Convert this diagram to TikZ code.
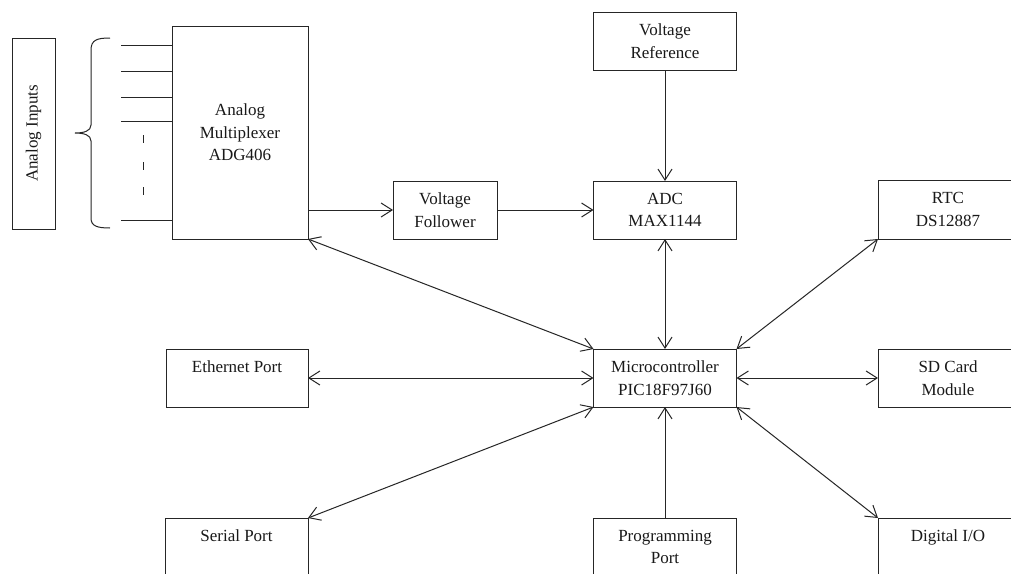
\documentclass[tikz,border=0pt]{standalone}
\usepackage{fontspec}
\setmainfont{Liberation Serif}
\usetikzlibrary{arrows.meta}
\tikzset{
  blk/.style={draw=black!85, line width=1pt, inner sep=0pt, outer sep=0pt,
    align=center, font=\fontsize{17}{22.5}\selectfont, text=black!90},
  wire/.style={draw=black!85, line width=1pt},
  sarr/.style={wire, -{Straight Barb[length=11pt,width=14pt,line width=1pt]}},
  darr/.style={wire, {Straight Barb[length=11pt,width=14pt,line width=1pt]}-{Straight Barb[length=11pt,width=14pt,line width=1pt]}},
}
\begin{document}
\begin{tikzpicture}[x=1pt,y=-1pt]
\clip (0,0) rectangle (1011,573);
\fill[white] (0,0) rectangle (1011,573);

% boxes
\node[blk, minimum width=191, minimum height=43, rotate=90] (ain) at (33.5,133.5) {Analog Inputs};
\node[blk, minimum width=136, minimum height=213] (mux) at (240,132.5) {Analog\\Multiplexer\\ADG406};
\node[blk, minimum width=104, minimum height=58] (vf) at (445,210) {Voltage\\Follower};
\node[blk, minimum width=143, minimum height=58] (vref) at (665,41) {Voltage\\Reference};
\node[blk, minimum width=143, minimum height=58] (adc) at (665,210) {ADC\\MAX1144};
\node[blk, minimum width=140, minimum height=59] (rtc) at (948,209.5) {RTC\\DS12887};
\node[blk, minimum width=143, minimum height=58] (mcu) at (665,378) {Microcontroller\\PIC18F97J60};
\node[blk, minimum width=142, minimum height=58] (eth) at (237,378) {Ethernet Port\\{}};
\node[blk, minimum width=140, minimum height=58] (sd) at (948,378) {SD Card\\Module};
\node[blk, minimum width=143, minimum height=58] (ser) at (236.5,547) {Serial Port\\{}};
\node[blk, minimum width=143, minimum height=58] (prog) at (665,547) {Programming\\Port};
\node[blk, minimum width=140, minimum height=58] (dio) at (948,547) {Digital I/O\\{}};

% analog input lines
\foreach \n/\yy in {1/45,2/71,3/97,4/121,5/220}{
  \coordinate (in\n) at (121,\yy);
  \draw[wire] (in\n) -- (in\n -| mux.west);
}
\foreach \n/\yy in {1/135,2/162,3/187}{
  \coordinate (d\n) at (143,\yy);
  \draw[wire] (d\n) -- ++(0,8);
}
% brace
\draw[wire] (110,38) .. controls (97,38) and (91,40) .. (91,50) -- (91,125)
  .. controls (91,131) and (84,133) .. (75,133)
  .. controls (84,133) and (91,135) .. (91,141) -- (91,218)
  .. controls (91,226) and (97,228) .. (110,228);

% connectors
\draw[sarr] (mux.east |- vf.west) -- (vf.west);
\draw[sarr] (vf.east) -- (adc.west);
\draw[sarr] (vref.south) -- (adc.north);
\draw[darr] (adc.south) -- (mcu.north);
\draw[darr] (mux.south east) -- (mcu.north west);
\draw[darr] (rtc.south west) -- (mcu.north east);
\draw[darr] (eth.east) -- (mcu.west);
\draw[darr] (mcu.east) -- (sd.west);
\draw[darr] (ser.north east) -- (mcu.south west);
\draw[sarr] (prog.north) -- (mcu.south);
\draw[darr] (mcu.south east) -- (dio.north west);
\end{tikzpicture}
\end{document}
